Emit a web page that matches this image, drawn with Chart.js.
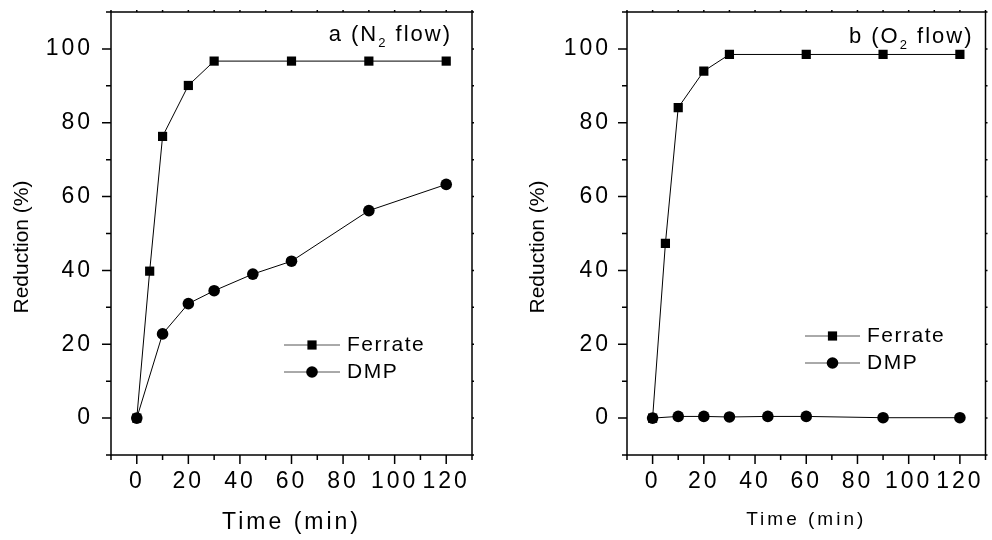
<!DOCTYPE html>
<html lang="en">
<head>
<meta charset="UTF-8">
<title>Reduction vs time</title>
<script src="https://cdn.jsdelivr.net/npm/chart.js"></script>
<style>
  html, body { margin: 0; padding: 0; background: #fff; }
  body { width: 992px; height: 540px; position: relative; overflow: hidden; }
  .panel { position: absolute; top: 0; height: 540px; }
  #panelA { left: 0; width: 496px; }
  #panelB { left: 500px; width: 492px; }
</style>
</head>
<body>

<div class="panel" id="panelA"><canvas id="chartA" width="496" height="540"></canvas></div>
<div class="panel" id="panelB"><canvas id="chartB" width="492" height="540"></canvas></div>

<script>
    // sampling times (min)
    const timeFerrate = [0, 5, 10, 20, 30, 60, 90, 120];
    const timeDmp = [0, 10, 20, 30, 45, 60, 90, 120];

    // a: N2 flow
    const ferrateN2 = [0, 39.8, 76.3, 90.1, 96.7, 96.7, 96.7, 96.7];
    const dmpN2 = [0, 22.8, 31.0, 34.5, 39.0, 42.5, 56.2, 63.3];

    // b: O2 flow
    const ferrateO2 = [0, 47.3, 84.1, 94.0, 98.5, 98.5, 98.5, 98.5];
    const dmpO2 = [0, 0.45, 0.45, 0.3, 0.45, 0.45, 0.1, 0.1];

    const seriesNames = ['Ferrate', 'DMP'];
    const xTickLabels = [0, 20, 40, 60, 80, 100, 120];
    const yTickLabels = [0, 20, 40, 60, 80, 100];

    const FONT = 'Arial, "Liberation Sans", Helvetica, sans-serif';
    Chart.defaults.font.family = FONT;
    Chart.defaults.color = '#000';

    const toPoints = (xs, ys) => xs.map((x, i) => ({ x: x, y: ys[i] }));

    // frame, minor/major ticks, y title, panel label and legend
    const decor = {
        id: 'decor',
        beforeDraw(chart) {
            chart.ctx.letterSpacing = '3px';
        },
        beforeDatasetsDraw(chart) {
            const { ctx, chartArea: a, scales: { x, y } } = chart;
            ctx.save();
            ctx.strokeStyle = '#000';
            ctx.lineWidth = 1.5;
            ctx.strokeRect(a.left, a.top, a.right - a.left, a.bottom - a.top);
            ctx.beginPath();
            for (let v = x.min; v <= x.max; v += 10) {
                const px = x.getPixelForValue(v);
                const len = v % 20 === 0 ? 9 : 5;
                ctx.moveTo(px, a.bottom);
                ctx.lineTo(px, a.bottom + len);
                ctx.moveTo(px, a.top);
                ctx.lineTo(px, a.top - 2);
            }
            for (let v = y.min; v <= y.max; v += 10) {
                const py = y.getPixelForValue(v);
                const len = v % 20 === 0 ? 9 : 5;
                ctx.moveTo(a.left, py);
                ctx.lineTo(a.left - len, py);
                ctx.moveTo(a.right, py);
                ctx.lineTo(a.right + 2, py);
            }
            ctx.stroke();
            ctx.restore();
        },
        afterDraw(chart, args, opts) {
            const { ctx, chartArea: a } = chart;
            ctx.save();
            ctx.fillStyle = '#000';

            // y axis title
            ctx.letterSpacing = '0px';
            ctx.font = '21px ' + FONT;
            ctx.textAlign = 'center';
            ctx.textBaseline = 'middle';
            ctx.save();
            ctx.translate(opts.yTitleX, (a.top + a.bottom) / 2 + 13.5);
            ctx.rotate(-Math.PI / 2);
            ctx.fillText('Reduction (%)', 0, 0);
            ctx.restore();

            // panel label with subscript
            ctx.letterSpacing = '2px';
            ctx.textAlign = 'left';
            ctx.textBaseline = 'alphabetic';
            const parts = opts.label;
            let total = 0;
            parts.forEach(p => {
                ctx.font = p.size + 'px ' + FONT;
                p.w = ctx.measureText(p.text).width;
                total += p.w;
            });
            let lx = a.right - opts.labelRight - total;
            parts.forEach(p => {
                ctx.font = p.size + 'px ' + FONT;
                ctx.fillText(p.text, lx, opts.labelBase + (p.dy || 0));
                lx += p.w;
            });

            // legend
            const lg = opts.legend;
            ctx.letterSpacing = '1.5px';
            ctx.font = '21px ' + FONT;
            ctx.textBaseline = 'middle';
            chart.data.datasets.forEach((ds, i) => {
                const ly = lg.rows[i];
                ctx.strokeStyle = '#555';
                ctx.lineWidth = 1;
                ctx.beginPath();
                ctx.moveTo(lg.x0, ly);
                ctx.lineTo(lg.x1, ly);
                ctx.stroke();
                ctx.fillStyle = '#000';
                Chart.helpers.drawPoint(ctx, {
                    pointStyle: ds.pointStyle,
                    radius: ds.pointRadius,
                    rotation: 0,
                    borderWidth: 0
                }, (lg.x0 + lg.x1) / 2, ly);
                ctx.fillText(ds.label, lg.textX, ly);
            });
            ctx.restore();
        }
    };

    function makeChart(id, ferrate, dmp, cfg) {
        return new Chart(document.getElementById(id), {
            type: 'scatter',
            data: {
                datasets: [
                    {
                        label: seriesNames[0],
                        data: toPoints(timeFerrate, ferrate),
                        showLine: true,
                        borderColor: '#000',
                        borderWidth: 1,
                        pointStyle: 'rect',
                        pointRadius: 6.5,
                        pointBackgroundColor: '#000',
                        pointBorderWidth: 0
                    },
                    {
                        label: seriesNames[1],
                        data: toPoints(timeDmp, dmp),
                        showLine: true,
                        borderColor: '#000',
                        borderWidth: 1,
                        pointStyle: 'circle',
                        pointRadius: 5.8,
                        pointBackgroundColor: '#000',
                        pointBorderWidth: 0
                    }
                ]
            },
            options: {
                responsive: false,
                animation: false,
                layout: { padding: { top: 12, right: cfg.padRight, left: 0, bottom: 0 } },
                scales: {
                    x: {
                        type: 'linear',
                        min: -10,
                        max: 130,
                        afterFit: s => {
                            s.height = 85;
                            s.paddingLeft = 0;
                            s.paddingRight = 0;
                        },
                        grid: { display: false, drawTicks: false },
                        border: { display: false },
                        ticks: {
                            stepSize: 10,
                            autoSkip: false,
                            maxRotation: 0,
                            padding: 13,
                            font: { size: 23 },
                            callback: v => xTickLabels.includes(v) ? String(v) : ''
                        },
                        title: {
                            display: true,
                            text: 'Time (min)',
                            font: { size: cfg.xTitleSize },
                            padding: { top: 0, bottom: cfg.xTitlePad }
                        }
                    },
                    y: {
                        type: 'linear',
                        min: -10,
                        max: 110,
                        afterFit: s => {
                            s.width = cfg.yWidth;
                            s.paddingTop = 0;
                            s.paddingBottom = 0;
                        },
                        grid: { display: false, drawTicks: false },
                        border: { display: false },
                        ticks: {
                            stepSize: 10,
                            autoSkip: false,
                            padding: cfg.yTickPad,
                            font: { size: 23 },
                            callback: v => yTickLabels.includes(v) ? String(v) : ''
                        }
                    }
                },
                plugins: {
                    legend: { display: false },
                    tooltip: { enabled: false },
                    decor: cfg.decor
                }
            },
            plugins: [decor]
        });
    }

    makeChart('chartA', ferrateN2, dmpN2, {
        padRight: 24,
        yWidth: 111,
        yTickPad: 18,
        xTitleSize: 23,
        xTitlePad: 4,
        decor: {
            yTitleX: 22,
            labelRight: 20,
            labelBase: 41,
            label: [
                { text: 'a (N', size: 22 },
                { text: '2', size: 13, dy: 6 },
                { text: ' flow)', size: 22 }
            ],
            legend: { x0: 284, x1: 340, textX: 347, rows: [345, 372] }
        }
    });

    makeChart('chartB', ferrateO2, dmpO2, {
        padRight: 2,
        yWidth: 127,
        yTickPad: 16,
        xTitleSize: 19,
        xTitlePad: 9,
        decor: {
            yTitleX: 38,
            labelRight: 12,
            labelBase: 43,
            label: [
                { text: 'b (O', size: 22 },
                { text: '2', size: 13, dy: 6 },
                { text: ' flow)', size: 22 }
            ],
            legend: { x0: 305, x1: 360, textX: 367, rows: [336, 363] }
        }
    });
</script>

</body>
</html>
